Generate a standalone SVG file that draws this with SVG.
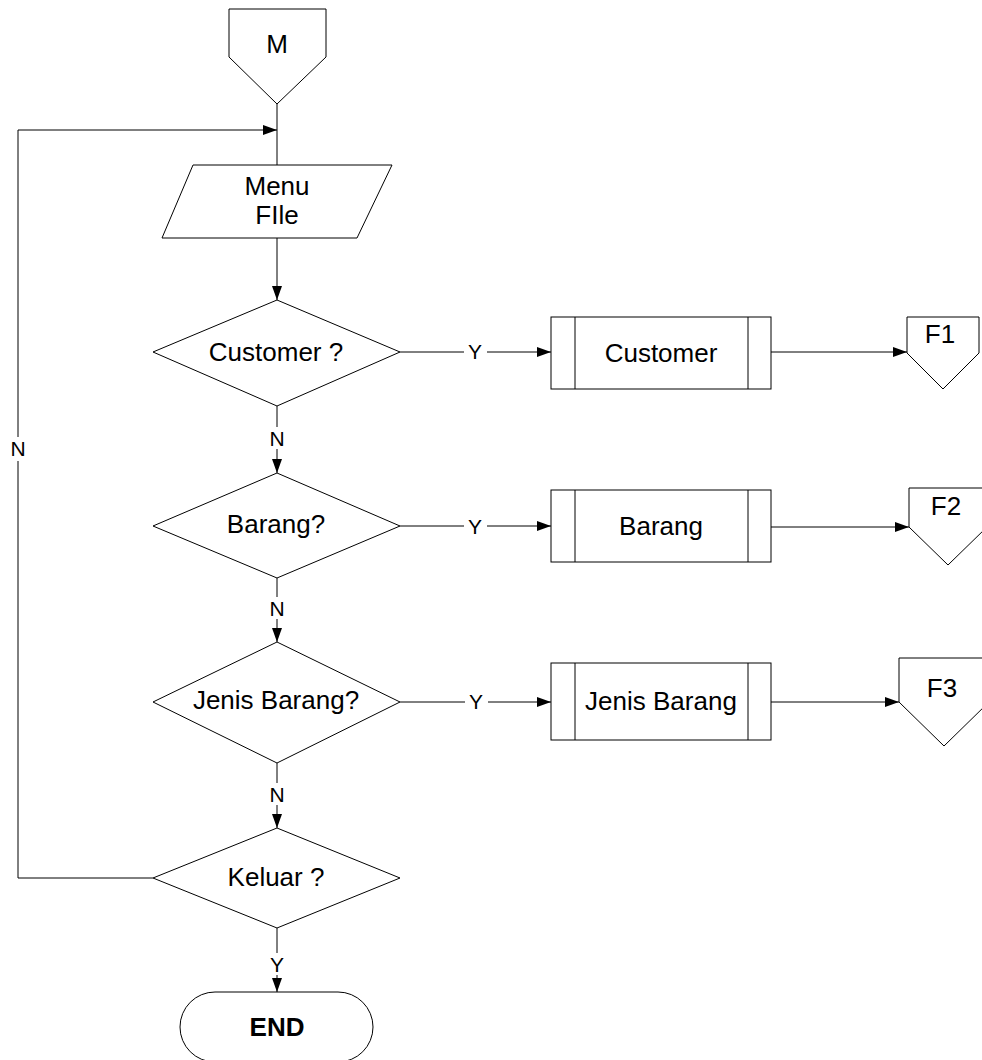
<svg xmlns="http://www.w3.org/2000/svg" width="982" height="1060" viewBox="0 0 982 1060">
<defs>
<marker id="arr" markerWidth="14" markerHeight="10" refX="14" refY="5" orient="auto" markerUnits="userSpaceOnUse">
<path d="M0,0 L14,5 L0,10 Z" fill="#000"/>
</marker>
<style>
.s{fill:#fff;stroke:#000;stroke-width:1}
.c{fill:none;stroke:#000;stroke-width:1}
.t{font-family:"Liberation Sans",Arial,sans-serif;font-size:26px;fill:#000;text-anchor:middle}
.l{font-family:"Liberation Sans",Arial,sans-serif;font-size:21px;fill:#000;text-anchor:middle}
.bg{fill:#fff;stroke:none}
</style>
</defs>
<rect width="982" height="1060" fill="#fff"/>
<g id="connectors">
<path class="c" d="M277,104 V165"/>
<path class="c" d="M153,878 H18 V130 H277" marker-end="url(#arr)"/>
<path class="c" d="M277,238 V300" marker-end="url(#arr)"/>
<path class="c" d="M277,406 V473" marker-end="url(#arr)"/>
<path class="c" d="M277,578 V642" marker-end="url(#arr)"/>
<path class="c" d="M277,763 V828" marker-end="url(#arr)"/>
<path class="c" d="M277,928 V992" marker-end="url(#arr)"/>
<path class="c" d="M400,352 H551" marker-end="url(#arr)"/>
<path class="c" d="M400,526 H551" marker-end="url(#arr)"/>
<path class="c" d="M400,702 H551" marker-end="url(#arr)"/>
<path class="c" d="M771,352 H907" marker-end="url(#arr)"/>
<path class="c" d="M771,527 H909" marker-end="url(#arr)"/>
<path class="c" d="M771,702 H899" marker-end="url(#arr)"/>
<rect class="bg" x="7" y="437" width="22" height="24"/>
<text class="l" x="18" y="456">N</text>
<rect class="bg" x="266" y="427" width="22" height="22"/>
<text class="l" x="277" y="446">N</text>
<rect class="bg" x="266" y="597" width="22" height="22"/>
<text class="l" x="277" y="616">N</text>
<rect class="bg" x="266" y="783" width="22" height="22"/>
<text class="l" x="277" y="802">N</text>
<rect class="bg" x="266" y="953" width="22" height="22"/>
<text class="l" x="277" y="972">Y</text>
<rect class="bg" x="464" y="340" width="23" height="22"/>
<text class="l" x="475" y="359">Y</text>
<rect class="bg" x="464" y="515" width="23" height="22"/>
<text class="l" x="475" y="534">Y</text>
<rect class="bg" x="465" y="691" width="23" height="22"/>
<text class="l" x="476" y="709">Y</text>
</g>
<g id="start-M">
<path class="s" d="M229,9 H326 V57 L277,104 L229,57 Z"/>
<text class="t" x="277" y="53">M</text>
</g>
<g id="menu-file">
<path class="s" d="M193,165 H392 L357,238 H162 Z"/>
<text class="t" x="277" y="195">Menu</text>
<text class="t" x="277" y="224">FIle</text>
</g>
<g id="dec-customer">
<path class="s" d="M277,300 L400,352 L277,406 L153,352 Z"/>
<text class="t" x="276" y="361">Customer ?</text>
</g>
<g id="dec-barang">
<path class="s" d="M277,473 L400,526 L277,578 L153,526 Z"/>
<text class="t" x="276" y="533">Barang?</text>
</g>
<g id="dec-jenis">
<path class="s" d="M277,642 L400,702 L277,763 L153,702 Z"/>
<text class="t" x="276" y="709">Jenis Barang?</text>
</g>
<g id="dec-keluar">
<path class="s" d="M277,828 L400,878 L277,928 L153,878 Z"/>
<text class="t" x="276" y="886">Keluar ?</text>
</g>
<g id="proc-customer">
<rect class="s" x="551" y="317" width="220" height="72"/>
<path class="c" d="M575,317 V389 M748,317 V389"/>
<text class="t" x="661" y="362">Customer</text>
</g>
<g id="proc-barang">
<rect class="s" x="551" y="490" width="220" height="72"/>
<path class="c" d="M575,490 V562 M748,490 V562"/>
<text class="t" x="661" y="535">Barang</text>
</g>
<g id="proc-jenis">
<rect class="s" x="551" y="663" width="220" height="77"/>
<path class="c" d="M575,663 V740 M748,663 V740"/>
<text class="t" x="661" y="710">Jenis Barang</text>
</g>
<g id="off-F1">
<path class="s" d="M907,317 H979 V353 L943,389 L907,353 Z"/>
<text class="t" x="940" y="343">F1</text>
</g>
<g id="off-F2">
<path class="s" d="M909,488 H987 V527 L948,565 L909,527 Z"/>
<text class="t" x="946" y="515">F2</text>
</g>
<g id="off-F3">
<path class="s" d="M899,658 H989 V702 L944,746 L899,702 Z"/>
<text class="t" x="942" y="697">F3</text>
</g>
<g id="end">
<rect class="s" x="180" y="992" width="193" height="70" rx="35" ry="35"/>
<text class="t" x="277" y="1036" style="font-weight:bold">END</text>
</g>
</svg>
